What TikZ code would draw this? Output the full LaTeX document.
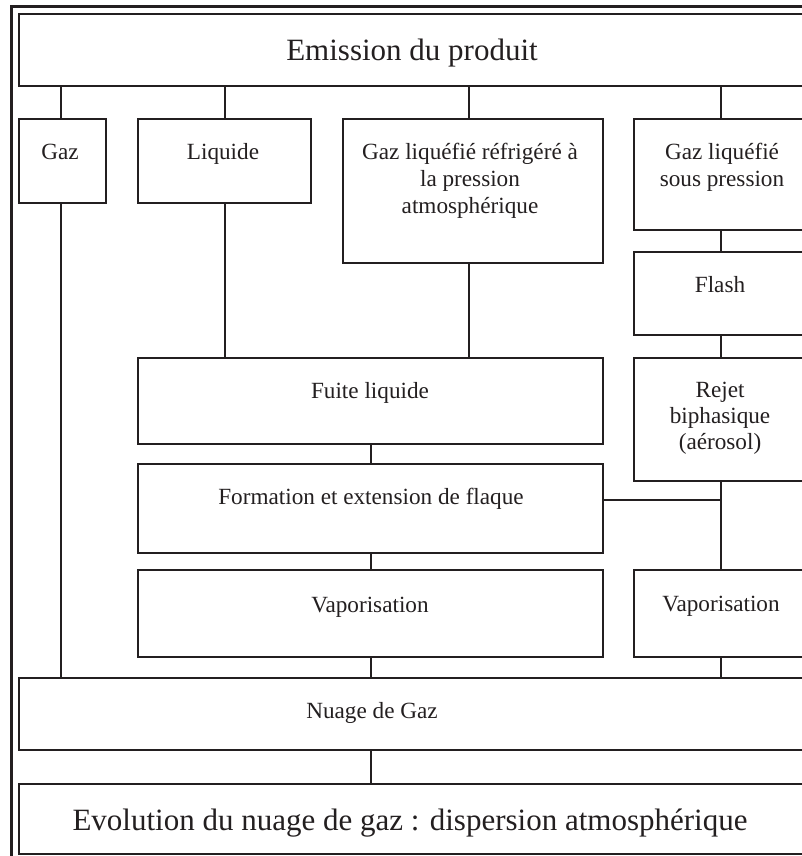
\documentclass[tikz,border=0pt]{standalone}
\usepackage{fontspec}
\setmainfont{Liberation Serif}
\definecolor{ink}{HTML}{231F20}
\begin{document}
\begin{tikzpicture}[x=1pt,y=-1pt,
  box/.style={draw=ink,line width=2pt,inner sep=0pt,anchor=north west,fill=white},
  lbl/.style={text=ink,anchor=base,inner sep=0pt,font=\fontsize{23.2}{27}\selectfont},
  big/.style={text=ink,anchor=base,inner sep=0pt,font=\fontsize{31}{37}\selectfont},
  link/.style={draw=ink,line width=2pt}]
\useasboundingbox (0,0) rectangle (802,856);
\clip (0,0) rectangle (802,856);
\fill[white] (0,0) rectangle (802,856);

% outer frame (left and top)
\draw[ink,line width=3pt] (11.5,870) -- (11.5,6.5) -- (840,6.5);

% boxes
\node[box,minimum width=812pt,minimum height=72pt]  (emis)  at (18,13)  {};
\node[box,minimum width=87pt, minimum height=84pt]  (gaz)   at (18,118) {};
\node[box,minimum width=173pt,minimum height=84pt]  (liq)   at (137,118) {};
\node[box,minimum width=260pt,minimum height=144pt] (refr)  at (342,118) {};
\node[box,minimum width=174pt,minimum height=111pt] (sousp) at (633,118) {};
\node[box,minimum width=174pt,minimum height=83pt]  (flash) at (633,251) {};
\node[box,minimum width=174pt,minimum height=123pt] (rejet) at (633,357) {};
\node[box,minimum width=465pt,minimum height=86pt]  (fuite) at (137,357) {};
\node[box,minimum width=465pt,minimum height=89pt]  (form)  at (137,463) {};
\node[box,minimum width=465pt,minimum height=87pt]  (vapl)  at (137,569) {};
\node[box,minimum width=174pt,minimum height=87pt]  (vapr)  at (633,569) {};
\node[box,minimum width=812pt,minimum height=72pt]  (nuage) at (18,677) {};
\node[box,minimum width=812pt,minimum height=70pt]  (evol)  at (18,783) {};

% connectors
\draw[link] ([xshift=-1.5pt]gaz.north) -- ([xshift=-1.5pt]gaz.north |- emis.south);
\draw[link] (liq.north) -- (liq.north |- emis.south);
\draw[link] ([xshift=-4pt]refr.north) -- ([xshift=-4pt]refr.north |- emis.south);
\draw[link] (sousp.north) -- (sousp.north |- emis.south);
\draw[link] (sousp.south) -- (flash.north);
\draw[link] (flash.south) -- (rejet.north);
\draw[link] (rejet.south) -- (vapr.north);
\draw[link] ([yshift=8.5pt]form.east) -- ([yshift=8.5pt]form.east -| rejet.south);
\draw[link] (liq.south) -- (liq.south |- fuite.north);
\draw[link] ([xshift=-4pt]refr.south) -- ([xshift=-4pt]refr.south |- fuite.north);
\draw[link] (fuite.south) -- (form.north);
\draw[link] (form.south) -- (vapl.north);
\draw[link] (vapl.south) -- (vapl.south |- nuage.north);
\draw[link] (vapr.south) -- (vapr.south |- nuage.north);
\draw[link] ([xshift=-1.5pt]gaz.south) -- ([xshift=-1.5pt]gaz.south |- nuage.north);
\draw[link] (vapl.south |- nuage.south) -- (vapl.south |- evol.north);

% labels
\node[big] (emisT) at (412,61) {Emission du produit};
\node[lbl] (gazT) at (60,159) {Gaz};
\node[lbl] (liqT) at (223,159) {Liquide};
\node[lbl] (refrT1) at (470,159) {Gaz liquéfié réfrigéré à};
\node[lbl] (refrT2) at (470,186) {la pression};
\node[lbl] (refrT3) at (470,213) {atmosphérique};
\node[lbl] (souspT1) at (722,159) {Gaz liquéfié};
\node[lbl] (souspT2) at (722,186) {sous pression};
\node[lbl] (flashT) at (720,292) {Flash};
\node[lbl] (rejetT1) at (720,397) {Rejet};
\node[lbl] (rejetT2) at (720,423) {biphasique};
\node[lbl] (rejetT3) at (720,449) {(aérosol)};
\node[lbl] (fuiteT) at (370,398) {Fuite liquide};
\node[lbl] (formT) at (371,504) {Formation et extension de flaque};
\node[lbl] (vaplT) at (370,612) {Vaporisation};
\node[lbl] (vaprT) at (721,611) {Vaporisation};
\node[lbl] (nuageT) at (372,718) {Nuage de Gaz};
\node[big] (evolT) at (410,830) {Evolution du nuage de gaz : dispersion atmosphérique};
\end{tikzpicture}
\end{document}
